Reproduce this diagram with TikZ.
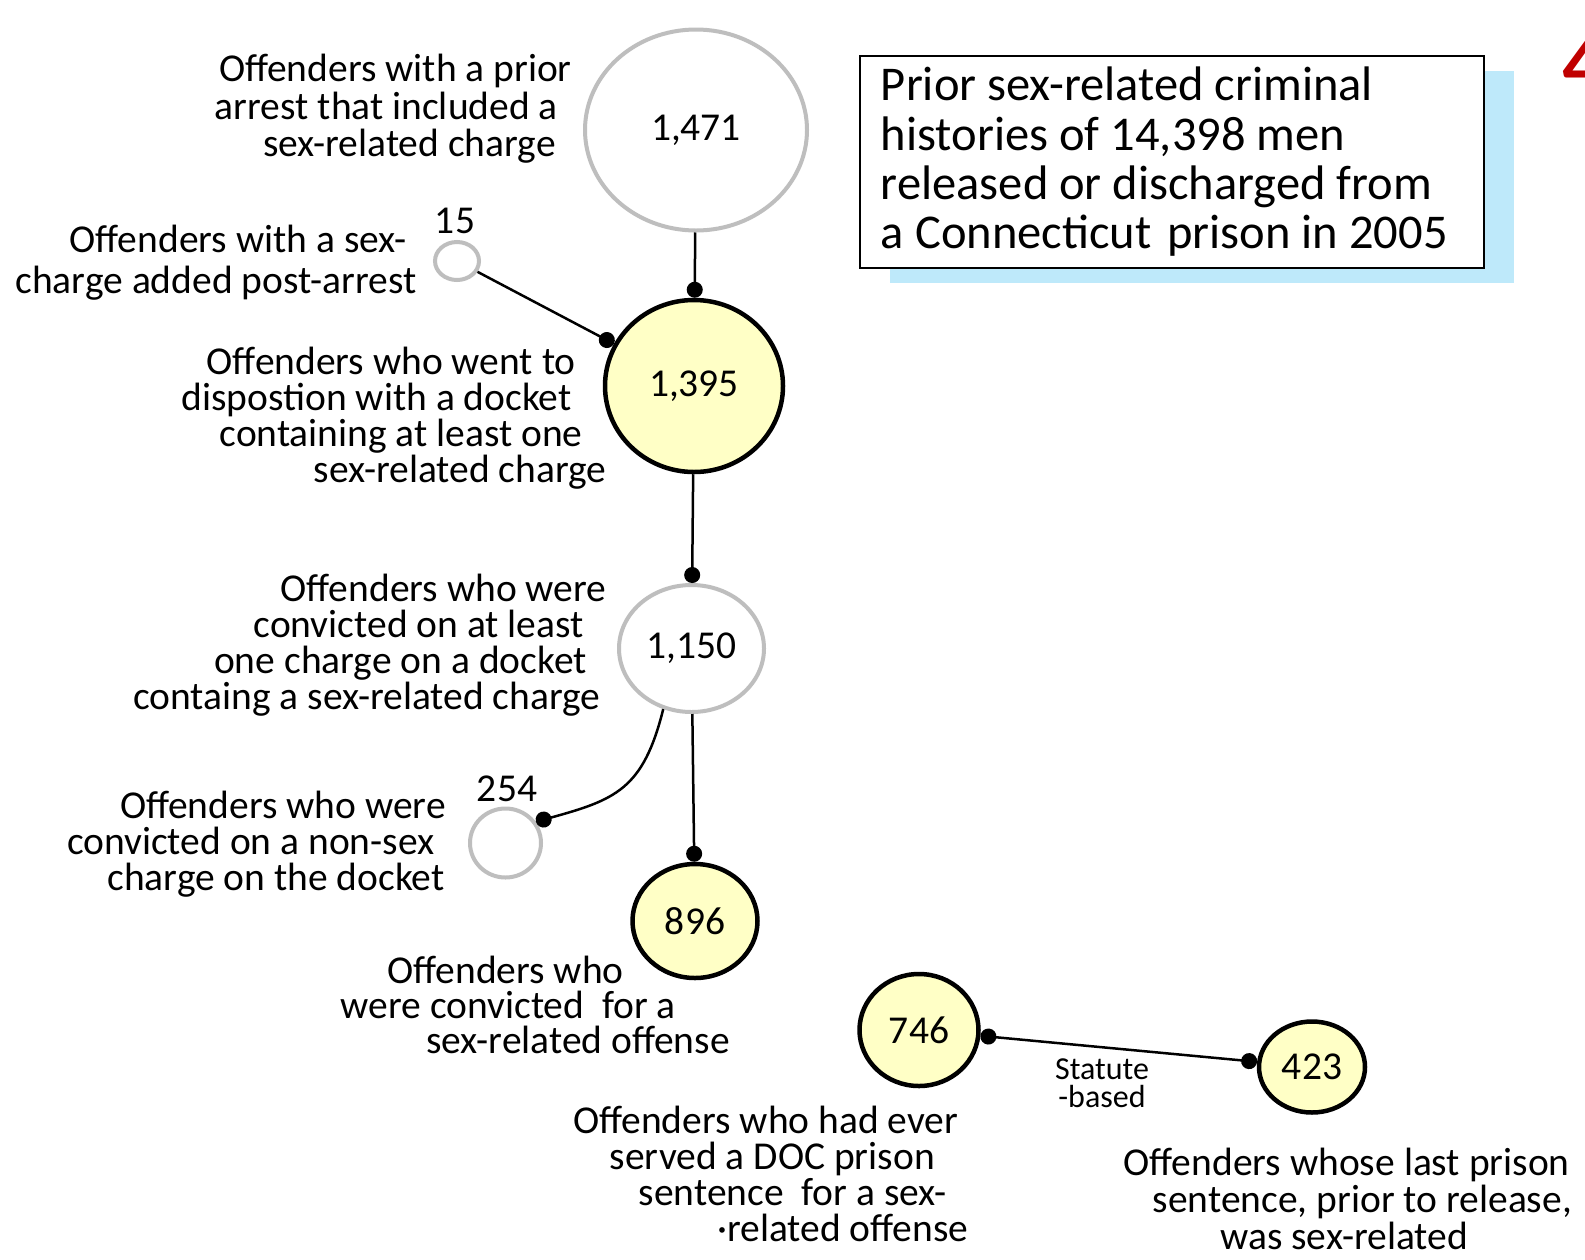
\documentclass[tikz,border=0pt]{standalone}
\usepackage{fontspec}
\setmainfont{Carlito}
\usetikzlibrary{shapes.geometric,arrows.meta,shadows}
\definecolor{ringgrey}{RGB}{190,190,190}
\definecolor{paleyellow}{RGB}{255,255,198}
\definecolor{shadowblue}{RGB}{190,233,250}
\definecolor{slidered}{RGB}{192,0,0}
\newcommand{\gap}[1]{\rule{#1pt}{0pt}}
\begin{document}
\begin{tikzpicture}[x=1pt,y=-1pt,
  grey/.style={ellipse,draw=ringgrey,line width=4pt,fill=white,inner sep=0pt,font=\fontsize{39.5}{40}\selectfont},
  yellow/.style={ellipse,draw=black,line width=4.5pt,fill=paleyellow,inner sep=0pt,font=\fontsize{39.5}{40}\selectfont},
  txt/.style={align=right,anchor=east,inner sep=0pt,font=\fontsize{39.5}{36}\selectfont},
  count/.style={inner sep=0pt,font=\fontsize{39.5}{40}\selectfont},
  link/.style={line width=2.5pt,-{Circle[length=16pt]}}]
\useasboundingbox (0,0) rectangle (1585,1259);
\fill[white] (0,0) rectangle (1585,1259);
% slide number, cut by the page edge
\node[text=slidered,font=\fontsize{110}{110}\selectfont,anchor=base west,inner sep=0pt] (pagenum) at (1561,96) {4};
% title
\node[draw,line width=1.5pt,fill=white,minimum width=624,minimum height=212,
  drop shadow={shadow xshift=30pt,shadow yshift=-15pt,fill=shadowblue,opacity=1}] (titlebox) at (1172,162) {};
\node[anchor=west,align=left,inner sep=0pt,font=\fontsize{48.5}{49.3}\selectfont] (title) at ([xshift=21.5pt]titlebox.west)
  {Prior sex-related criminal\\histories of 14,398 men\\released or discharged from\\a Connecticut\hspace{5pt} prison in 2005};
% circles
\node[grey,minimum width=222,minimum height=201] (c1471) at (696,130) {1,471};
\node[yellow,minimum width=178,minimum height=172] (c1395) at (694,386) {1,395};
\node[grey,minimum width=44,minimum height=38] (c15) at (457,261) {};
\node[grey,minimum width=145,minimum height=127] (c1150) at (691.5,648.5) {1,150};
\node[grey,minimum width=71,minimum height=69] (c254) at (505.5,843) {};
\node[yellow,minimum width=125,minimum height=114] (c896) at (695,921) {896};
\node[yellow,minimum width=119,minimum height=112] (c746) at (919,1030) {746};
\node[yellow,minimum width=106,minimum height=91] (c423) at (1312,1067) {423};
\node[count] (n15) at (455,221) {15};
\node[count] (n254) at (507,789) {254};
% connectors
\draw[link] (c1471) -- (c1395);
\draw[link] (c15) -- (c1395);
\draw[link] (c1395) -- (c1150);
\draw[link] (c1150) -- (c896);
\draw[link] (c1150.245) .. controls +(-20,80) and +(80,-22) .. (c254.35);
\draw[line width=2.5pt,{Circle[length=16pt]}-{Circle[length=16pt]}] (c746) -- (c423);
\node[align=center,inner sep=0pt,font=\fontsize{32}{28}\selectfont] (statute) at (1102,1083) {Statute\\-based};
% labels
\node[txt,font=\fontsize{39.5}{37.5}\selectfont] (lblprior) at (572,109)
  {Offenders with a prior\\arrest that included a\gap{14}\\sex-related charge\gap{16}};
\node[txt,font=\fontsize{39.5}{41}\selectfont] (lbladded) at (416.5,263)
  {Offenders with a sex-\gap{9.5}\\charge added post-arrest};
\node[txt] (lbldispo) at (606.6,418)
  {Offenders who went to\gap{30.6}\\dispostion with a docket\gap{34.6}\\containing at least one\gap{23.6}\\sex-related charge};
\node[txt] (lblconv) at (606.6,645.5)
  {Offenders who were\\convicted on at least\gap{22.6}\\one charge on a docket\gap{19.6}\\containg a sex-related charge\gap{6}};
\node[txt] (lblnonsex) at (446,844.5)
  {Offenders who were\\convicted on a non-sex\gap{11.3}\\charge on the docket\gap{1.2}};
\node[txt,font=\fontsize{39.5}{35}\selectfont] (lblsexoff) at (730,1005)
  {Offenders who\gap{106}\\were convicted\ \ for a\gap{54}\\sex-related offense};
\node[txt] (lbldoc) at (968.5,1174)
  {Offenders who had ever\gap{10}\\served a DOC prison\gap{33.5}\\sentence\ \ for a sex-\gap{21.5}\\·related offense};
\node[txt,font=\fontsize{39.5}{37}\selectfont] (lbllast) at (1572,1199)
  {Offenders whose last prison\gap{2}\\sentence, prior to release,\\was sex-related\gap{104}};
\end{tikzpicture}
\end{document}
